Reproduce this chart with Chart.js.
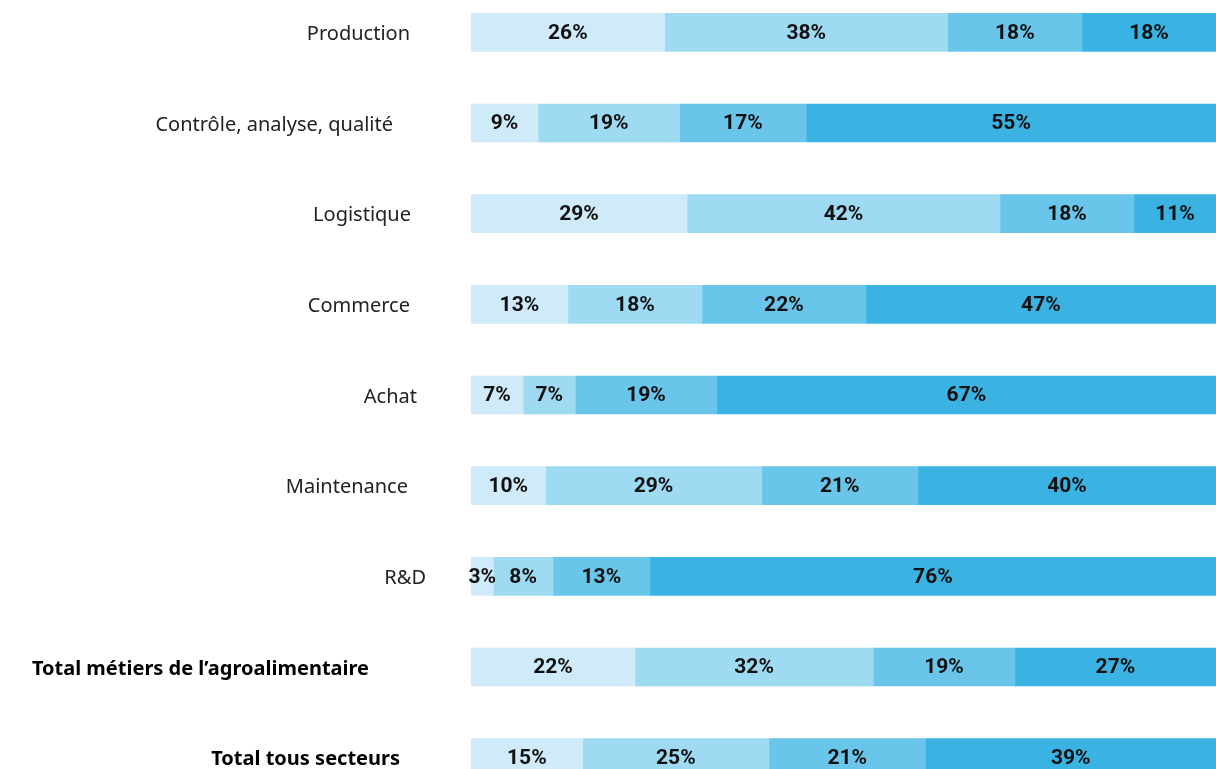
<!DOCTYPE html>
<html lang="fr">
<head>
<meta charset="utf-8">
<script src="https://cdn.jsdelivr.net/npm/chart.js@4.4.1/dist/chart.umd.min.js"></script>
<style>
  html, body { margin: 0; padding: 0; background: #fff; overflow: hidden; width: 1216px; height: 769px; }
  #wrap { position: absolute; left: 0; top: -13px; width: 1216px; height: 816px; }
</style>
</head>
<body>
<div id="wrap"><canvas id="chart" width="1216" height="816"></canvas></div>
<script>
// Métiers (catégories) et parts des quatre tranches, en %
const categories = [
  "Production",
  "Contrôle, analyse, qualité",
  "Logistique",
  "Commerce",
  "Achat",
  "Maintenance",
  "R&D",
  "Total métiers de l’agroalimentaire",
  "Total tous secteurs"
];
const serie1 = [26, 9, 29, 13, 7, 10, 3, 22, 15];
const serie2 = [38, 19, 42, 18, 7, 29, 8, 32, 25];
const serie3 = [18, 17, 18, 22, 19, 21, 13, 19, 21];
const serie4 = [18, 55, 11, 47, 67, 40, 76, 27, 39];

// Catégories en gras (totaux)
const boldRows = [7, 8];
// Bord droit de chaque libellé de catégorie (px)
const labelRight = [410, 393, 411, 410, 417, 408, 426, 369, 400];

const colors = ["#cfebf9", "#9fdaf3", "#6ac5ea", "#3ab3e3"];

// Libellés des catégories, à gauche des barres
const categoryLabels = {
  id: "categoryLabels",
  afterDraw(chart) {
    const { ctx, scales } = chart;
    ctx.save();
    ctx.textAlign = "right";
    ctx.textBaseline = "middle";
    categories.forEach((c, i) => {
      const y = scales.y.getPixelForValue(i);
      const bold = boldRows.includes(i);
      ctx.font = bold ? "bold 20px 'Noto Sans'" : "20px 'Noto Sans'";
      ctx.fillStyle = bold ? "#000" : "#222";
      ctx.fillText(c, labelRight[i], y + 2);
    });
    ctx.restore();
  }
};

// Valeurs en % au centre de chaque segment
const valueLabels = {
  id: "valueLabels",
  afterDatasetsDraw(chart) {
    const { ctx } = chart;
    ctx.save();
    ctx.textAlign = "center";
    ctx.textBaseline = "middle";
    ctx.font = "bold 21px Roboto";
    ctx.fillStyle = "#111";
    chart.data.datasets.forEach((ds, di) => {
      const meta = chart.getDatasetMeta(di);
      meta.data.forEach((bar, i) => {
        const cx = (bar.x + bar.base) / 2;
        ctx.fillText(ds.data[i] + "%", cx, bar.y + 1);
      });
    });
    ctx.restore();
  }
};

const series = [serie1, serie2, serie3, serie4];

new Chart(document.getElementById("chart"), {
  type: "bar",
  data: {
    labels: categories,
    datasets: series.map((s, k) => ({
      data: s,
      backgroundColor: colors[k],
      borderWidth: 0,
      barThickness: 38
    }))
  },
  options: {
    indexAxis: "y",
    responsive: false,
    animation: false,
    layout: { padding: { left: 471, right: 0, top: 0, bottom: 0 } },
    plugins: { legend: { display: false }, tooltip: { enabled: false } },
    scales: {
      x: { stacked: true, min: 0, max: 100, display: false },
      y: { stacked: true, display: false }
    }
  },
  plugins: [categoryLabels, valueLabels]
});
</script>
</body>
</html>
